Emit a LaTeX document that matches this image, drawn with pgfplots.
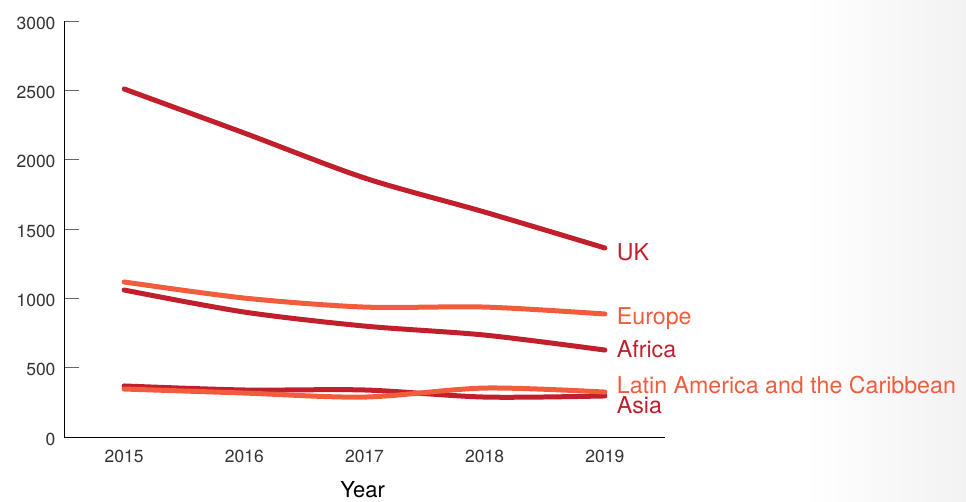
\documentclass[border=0pt]{standalone}
\usepackage{pgfplots}
\pgfplotsset{compat=1.18}
\usepackage{fontspec}
\setmainfont{TeX Gyre Heros}
\definecolor{deepred}{RGB}{193,31,43}
\definecolor{coral}{RGB}{241,92,60}
\definecolor{tickgray}{RGB}{51,51,51}

\begin{document}
\begin{tikzpicture}[x=1pt,y=1pt]
\useasboundingbox (-64,-65) rectangle (902,437);
\shade[left color=white,right color=black!5] (740,-65) rectangle (902,437);
\begin{axis}[
  at={(0,0)}, anchor=south west,
  scale only axis, width=601pt, height=416pt,
  xmin=2014.5, xmax=2019.5, ymin=0, ymax=3000,
  axis lines=left, axis line style={-, black, line width=0.8pt},
  xtick={2015,2016,2017,2018,2019},
  xticklabels={2015,2016,2017,2018,2019},
  x tick style={draw=none},
  extra x ticks={2015.5,2016.5,2017.5,2018.5,2019.5},
  extra x tick labels={},
  extra x tick style={major tick length=11pt, tick style={black, line width=0.8pt}, tick align=inside},
  ytick={0,500,1000,1500,2000,2500,3000},
  y tick style={gray!80!black, line width=0.8pt},
  tick align=inside, major tick length=15pt,
  /pgf/number format/assume math mode=true,
  /pgf/number format/set thousands separator={},
  ticklabel style={font=\fontsize{17.5}{20}\selectfont, text=tickgray},
  yticklabel style={xshift=-5pt, yshift=-2pt},
  xticklabel style={yshift=-10pt},
  xlabel={Year},
  xlabel style={font=\fontsize{22}{26}\selectfont, at={(axis description cs:0.497,0)}, anchor=center, yshift=-53pt},
  every axis plot/.append style={line width=5pt, line cap=round, smooth},
  clip=false,
]
\addplot[deepred] coordinates {(2015,2510) (2016,2192) (2017,1868) (2018,1622) (2019,1363)};
\addplot[coral] coordinates {(2015,1118) (2016,1002) (2017,937) (2018,937) (2019,887)};
\addplot[deepred] coordinates {(2015,1060) (2016,901) (2017,800) (2018,735) (2019,627)};
\addplot[deepred] coordinates {(2015,368) (2016,339) (2017,339) (2018,288) (2019,296)};
\addplot[coral] coordinates {(2015,346) (2016,317) (2017,288) (2018,353) (2019,324)};

\begin{scope}[every node/.style={anchor=base west, inner sep=0pt, font=\fontsize{23.2}{27}\selectfont}]
\node[text=deepred] at (axis cs:2019.098,1276) {UK};
\node[text=coral] at (axis cs:2019.098,813) {Europe};
\node[text=deepred] at (axis cs:2019.098,572) {Africa};
\node[text=coral] at (axis cs:2019.098,315) {Latin America and the Caribbean};
\node[text=deepred] at (axis cs:2019.098,171) {Asia};
\end{scope}
\end{axis}
\end{tikzpicture}
\end{document}
